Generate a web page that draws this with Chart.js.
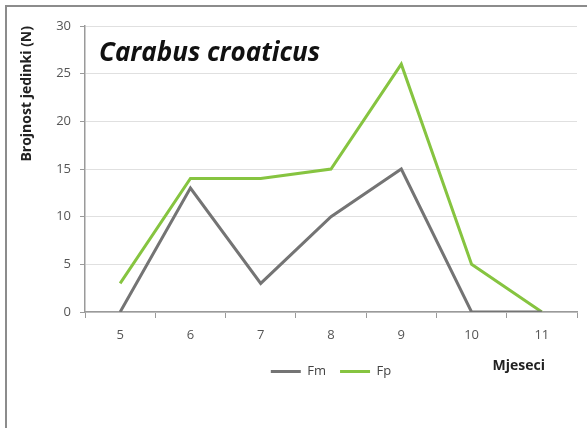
<!DOCTYPE html>
<html>
<head>
<meta charset="utf-8">
<script src="https://cdn.jsdelivr.net/npm/chart.js@4.4.0/dist/chart.umd.min.js"></script>
<style>
  html, body { margin: 0; padding: 0; background: #fff; }
  #wrap { position: relative; width: 587px; height: 428px; }
  #frame {
    position: absolute; left: 5px; top: 5px; right: 0; bottom: 0;
    border-top: 2px solid #8c8c8c; border-left: 2px solid #8c8c8c;
    pointer-events: none;
  }
  canvas { position: absolute; left: 0; top: 0; }
</style>
</head>
<body>
<div id="wrap">
  <canvas id="myLineChart" width="587" height="428"></canvas>
  <div id="frame"></div>
</div>
<script>
// months on the x axis
const months = ['5', '6', '7', '8', '9', '10', '11'];
// Fm / Fp counts per month
const fmValues = [0, 13, 3, 10, 15, 0, 0];
const fpValues = [3, 14, 14, 15, 26, 5, 0];

const chartTitle = 'Carabus croaticus';
const xTitle = 'Mjeseci';
const yTitle = 'Brojnost jedinki (N)';

var lineChart = document.getElementById("myLineChart");

// species name inside the plot and the month label under the axis
const extraText = {
  id: 'extraText',
  afterDraw(chart) {
    const ctx = chart.ctx;
    const area = chart.chartArea;
    ctx.save();
    ctx.fillStyle = '#111';
    ctx.font = 'italic bold 26px "Open Sans"';
    ctx.textAlign = 'left';
    ctx.textBaseline = 'alphabetic';
    ctx.fillText(chartTitle, area.left + 14, 61);
    ctx.font = 'bold 14px "Open Sans"';
    ctx.textAlign = 'right';
    ctx.textBaseline = 'middle';
    ctx.fillStyle = '#222';
    ctx.fillText(xTitle, 545, 366);
    ctx.restore();
  }
};

const data = {
  labels: months,
  datasets: [{
    label: 'Fm',
    data: fmValues,
    borderColor: '#747474',
    backgroundColor: '#747474',
    borderWidth: 3,
    pointRadius: 0,
    tension: 0
  }, {
    label: 'Fp',
    data: fpValues,
    borderColor: '#86c440',
    backgroundColor: '#86c440',
    borderWidth: 3,
    pointRadius: 0,
    tension: 0
  }]
};

const config = {
  type: 'line',
  data: data,
  plugins: [extraText],
  options: {
    responsive: false,
    animation: false,
    layout: {
      padding: { left: 8, right: 10, top: 26, bottom: 40 }
    },
    plugins: {
      legend: {
        position: 'bottom',
        fullSize: false,
        labels: {
          usePointStyle: true,
          pointStyle: 'line',
          pointStyleWidth: 30,
          color: '#444',
          font: { family: '"Open Sans"', size: 13 },
          padding: 14
        }
      },
      tooltip: { enabled: false }
    },
    scales: {
      x: {
        offset: true,
        grid: {
          offset: true,
          drawOnChartArea: false,
          tickLength: 6,
          tickColor: '#9a9a9a'
        },
        border: { color: '#9a9a9a', width: 1.5 },
        ticks: {
          color: '#555',
          padding: 9,
          font: { family: '"Open Sans"', size: 13 }
        },
        afterFit(scale) { scale.height = 39; }
      },
      y: {
        min: 0,
        max: 30,
        ticks: {
          stepSize: 5,
          color: '#555',
          padding: 9,
          font: { family: '"Open Sans"', size: 13 }
        },
        grid: {
          color: '#e0e0e0',
          tickColor: '#9a9a9a',
          tickLength: 5
        },
        border: { color: '#9a9a9a', width: 1.5 },
        title: {
          display: true,
          text: yTitle,
          align: 'end',
          color: '#222',
          padding: { top: 11, bottom: 4 },
          font: { family: '"Open Sans"', size: 14, weight: 'bold' }
        },
        afterFit(scale) { scale.width = 77; }
      }
    }
  }
};

const myChart = new Chart(lineChart, config);
</script>
</body>
</html>
